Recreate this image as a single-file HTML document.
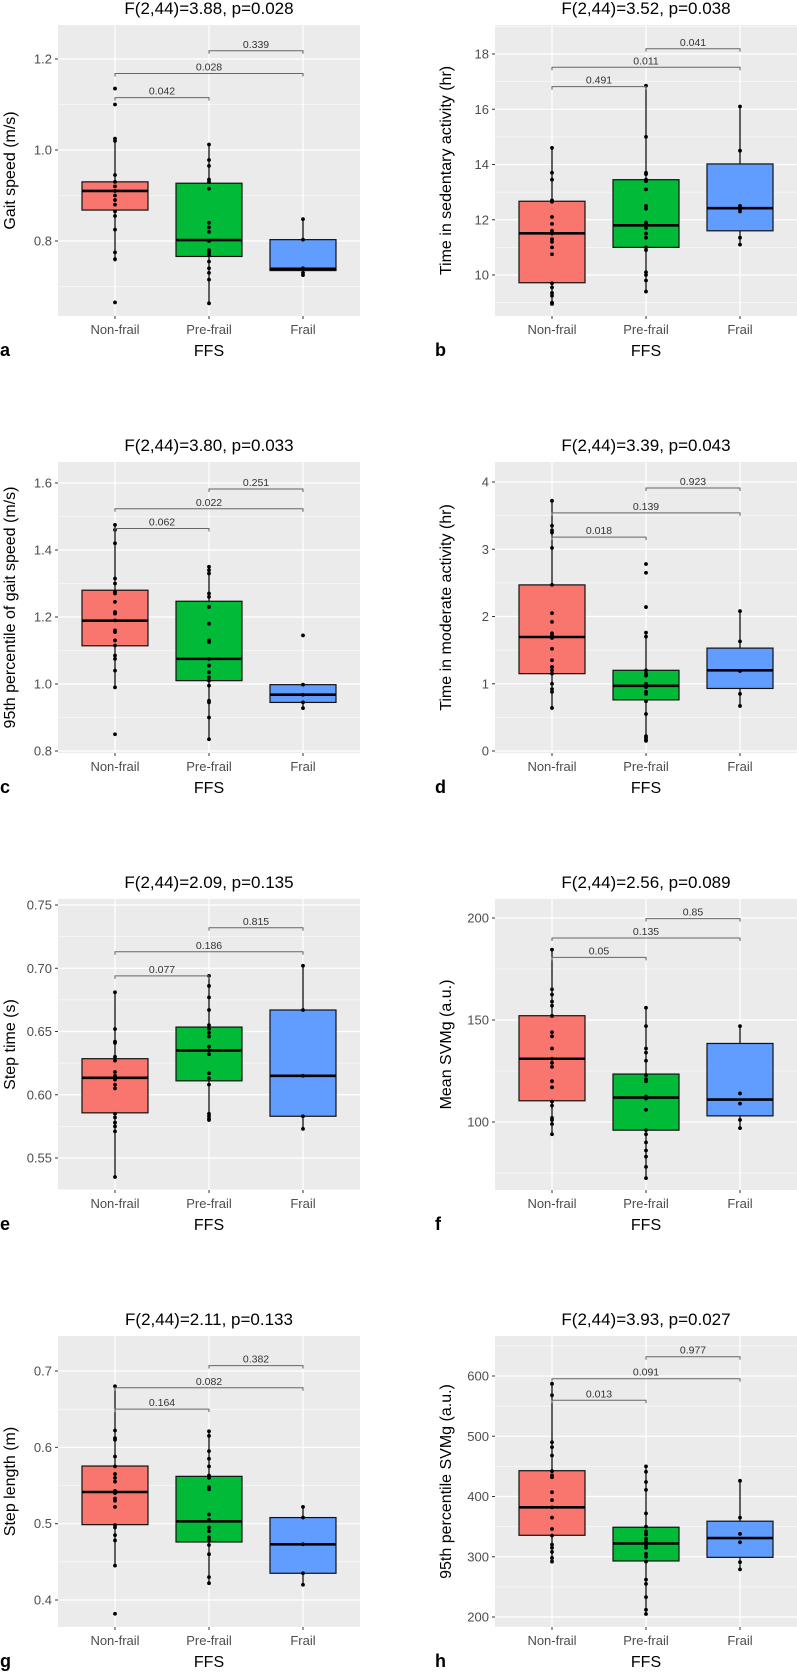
<!DOCTYPE html>
<html><head><meta charset="utf-8"><style>
body{margin:0;background:#fff}
svg{display:block;font-family:"Liberation Sans",Arial,sans-serif}
</style></head><body>
<svg id="fig" width="797" height="1672" viewBox="0 0 797 1672" xmlns="http://www.w3.org/2000/svg"></svg>
<script>
const categories = ["Non-frail","Pre-frail","Frail"];
const boxColors = ["#F8766D","#00BA38","#619CFF"];
// panel a
const aTicks=[0.8,1.0,1.2];
const aBoxes=[[0.755,0.868,0.910,0.930,1.025],[0.663,0.766,0.802,0.927,1.012],[0.725,0.735,0.739,0.803,0.848]];
const aPoints=[[1.135,1.10,1.025,1.02,0.945,0.93,0.92,0.91,0.90,0.89,0.88,0.865,0.855,0.825,0.775,0.76,0.665],[1.012,0.978,0.965,0.935,0.93,0.915,0.84,0.83,0.82,0.80,0.78,0.775,0.77,0.755,0.74,0.73,0.715,0.663],[0.848,0.803,0.74,0.73,0.725]];
const aBrackets=[[0,1,1.115,"0.042"],[0,2,1.168,"0.028"],[1,2,1.218,"0.339"]];
// panel b
const bTicks=[10,12,14,16,18];
const bBoxes=[[8.95,9.72,11.51,12.67,14.6],[9.4,11.0,11.8,13.45,16.85],[11.1,11.6,12.42,14.02,16.1]];
const bPoints=[[14.6,13.7,13.45,12.7,12.65,12.1,11.85,11.6,11.5,11.3,11.2,11.0,10.75,9.7,9.55,9.35,9.25,9.0,8.95],[16.85,15.0,13.7,13.65,13.45,13.4,13.1,12.5,12.4,11.9,11.85,11.7,11.5,11.35,11.0,10.9,10.1,10.0,9.8,9.4],[16.1,14.5,12.5,12.4,12.3,11.35,11.1]];
const bBrackets=[[0,1,16.82,"0.491"],[0,2,17.52,"0.011"],[1,2,18.19,"0.041"]];
// panel c
const cTicks=[0.8,1.0,1.2,1.4,1.6];
const cBoxes=[[0.99,1.114,1.189,1.28,1.475],[0.835,1.01,1.075,1.247,1.35],[0.928,0.945,0.968,0.998,0.998]];
const cPoints=[[1.475,1.46,1.42,1.315,1.30,1.275,1.27,1.245,1.215,1.21,1.19,1.16,1.155,1.13,1.115,1.085,1.075,1.04,0.99,0.85],[1.35,1.34,1.33,1.27,1.26,1.23,1.18,1.13,1.125,1.075,1.055,1.035,1.02,1.01,0.995,0.95,0.945,0.90,0.835],[1.145,0.998,0.968,0.945,0.928]];
const cBrackets=[[0,1,1.464,"0.062"],[0,2,1.523,"0.022"],[1,2,1.582,"0.251"]];
// panel d
const dTicks=[0,1,2,3,4];
const dBoxes=[[0.64,1.15,1.695,2.47,3.72],[0.15,0.76,0.97,1.2,1.76],[0.67,0.93,1.2,1.53,2.08]];
const dPoints=[[3.72,3.35,3.28,3.25,3.02,2.47,2.05,1.92,1.75,1.72,1.68,1.52,1.35,1.25,1.2,1.15,1.0,0.92,0.88,0.64],[2.78,2.65,2.14,1.76,1.7,1.2,1.15,1.12,1.0,0.95,0.88,0.85,0.74,0.55,0.22,0.2,0.17,0.15],[2.08,1.63,1.19,0.85,0.67]];
const dBrackets=[[0,1,3.18,"0.018"],[0,2,3.54,"0.139"],[1,2,3.91,"0.923"]];
// panel e
const eTicks=[0.55,0.60,0.65,0.70,0.75];
const eBoxes=[[0.535,0.5857,0.6134,0.6285,0.681],[0.58,0.611,0.635,0.6535,0.694],[0.573,0.583,0.615,0.667,0.702]];
const ePoints=[[0.681,0.652,0.642,0.641,0.63,0.627,0.618,0.615,0.612,0.608,0.605,0.585,0.582,0.578,0.575,0.571,0.535],[0.694,0.686,0.677,0.667,0.655,0.652,0.649,0.646,0.638,0.635,0.632,0.617,0.613,0.608,0.585,0.583,0.581,0.58],[0.702,0.667,0.615,0.583,0.573]];
const eBrackets=[[0,1,0.694,"0.077"],[0,2,0.713,"0.186"],[1,2,0.732,"0.815"]];
// panel f
const fTicks=[100,150,200];
const fBoxes=[[94,110.4,131,152.1,184.5],[72.5,96,112,123.5,156],[97,103,111,138.5,147]];
const fPoints=[[184.5,165,162.5,159,157,152,144,142,136,131,129,127,120,117,110,108,102,101,99,94],[156,147,136,134,130,123,121,120,112.5,111.5,106,96,94,90,86,83,78,72.5],[147,114,109,101,97]];
const fBrackets=[[0,1,180.7,"0.05"],[0,2,190.2,"0.135"],[1,2,199.7,"0.85"]];
// panel g
const gTicks=[0.4,0.5,0.6,0.7];
const gBoxes=[[0.445,0.4987,0.5415,0.5755,0.68],[0.422,0.476,0.503,0.562,0.621],[0.42,0.435,0.473,0.508,0.522]];
const gPoints=[[0.68,0.622,0.612,0.61,0.588,0.575,0.565,0.56,0.555,0.543,0.54,0.533,0.53,0.522,0.498,0.495,0.485,0.478,0.445,0.382],[0.621,0.615,0.595,0.585,0.575,0.563,0.56,0.548,0.545,0.512,0.505,0.495,0.49,0.482,0.478,0.472,0.46,0.43,0.422],[0.522,0.508,0.473,0.435,0.42]];
const gBrackets=[[0,1,0.65,"0.164"],[0,2,0.678,"0.082"],[1,2,0.707,"0.382"]];
// panel h
const hTicks=[200,300,400,500,600];
const hBoxes=[[292,335.6,382,442.8,587],[205,293,322,349,450],[279,299,331,359,426]];
const hPoints=[[587,568,490,482,468,442,435,432,407,394,382,365,346,335,320,315,308,298,292],[450,441,424,411,372,350,342,337,330,325,320,315,305,300,292,262,255,233,212,205],[426,365,338,324,291,279]];
const hBrackets=[[0,1,559.7,"0.013"],[0,2,595.5,"0.091"],[1,2,632,"0.977"]];

const panelTitles=["F(2,44)=3.88, p=0.028","F(2,44)=3.52, p=0.038","F(2,44)=3.80, p=0.033","F(2,44)=3.39, p=0.043","F(2,44)=2.09, p=0.135","F(2,44)=2.56, p=0.089","F(2,44)=2.11, p=0.133","F(2,44)=3.93, p=0.027"];
const yTitles=["Gait speed (m/s)","Time in sedentary activity (hr)","95th percentile of gait speed (m/s)","Time in moderate activity (hr)","Step time (s)","Mean SVMg (a.u.)","Step length (m)","95th percentile SVMg (a.u.)"];
const letters=["a","b","c","d","e","f","g","h"];
const tickFmt=[1,0,1,0,2,0,1,0];

const panels=[
 {t:aTicks,b:aBoxes,p:aPoints,br:aBrackets,cal:[1.2,34,0.8,216]},
 {t:bTicks,b:bBoxes,p:bPoints,br:bBrackets,cal:[18,29,10,250]},
 {t:cTicks,b:cBoxes,p:cPoints,br:cBrackets,cal:[1.6,21,0.8,289]},
 {t:dTicks,b:dBoxes,p:dPoints,br:dBrackets,cal:[4,20,0,289]},
 {t:eTicks,b:eBoxes,p:ePoints,br:eBrackets,cal:[0.75,6,0.55,259]},
 {t:fTicks,b:fBoxes,p:fPoints,br:fBrackets,cal:[200,19,100,223]},
 {t:gTicks,b:gBoxes,p:gPoints,br:gBrackets,cal:[0.7,35,0.4,264]},
 {t:hTicks,b:hBoxes,p:hPoints,br:hBrackets,cal:[600,40,200,281]}
];

const NS="http://www.w3.org/2000/svg";
const svg=document.getElementById("fig");
function mk(tag,attrs,parent,text){const e=document.createElementNS(NS,tag);for(const k in attrs)e.setAttribute(k,attrs[k]);if(text!==undefined)e.textContent=text;parent.appendChild(e);return e;}

const PW=302, PH=291;
panels.forEach((P,i)=>{
  const col=i%2,row=Math.floor(i/2);
  const x0=col?495:58, top=25+row*437, bottom=top+PH;
  const g=mk("g",{},svg);
  
  
  const [v1,y1,v2,y2]=P.cal;
  const y=v=>top+y1+(v1-v)*(y2-y1)/(v1-v2);
  const xc=k=>x0+57+k*94;
  const bg=mk("rect",{x:x0,y:top,width:PW,height:PH,fill:"#ebebeb"},g);
  
  
  const step=P.t[1]-P.t[0];
  const vTop=v1+(y1)*(v1-v2)/(y2-y1), vBot=v1-(PH-y1)*(v1-v2)/(y2-y1);
  for(let m=P.t[0]-step*10+step/2;m<=vTop+1e-9;m+=step){ if(m>=vBot){const yy=y(m);mk("line",{x1:x0,x2:x0+PW,y1:yy,y2:yy,stroke:"#fff","stroke-width":0.6},g);} }
  P.t.forEach(v=>{const yy=y(v);
    const gl=mk("line",{x1:x0,x2:x0+PW,y1:yy,y2:yy,stroke:"#fff","stroke-width":1.2},g);
    
    
    mk("line",{x1:x0-3,x2:x0,y1:yy,y2:yy,stroke:"#333","stroke-width":1},g);
    const tl=mk("text",{x:x0-6,y:yy+4.5,"text-anchor":"end","font-size":13,fill:"#4d4d4d"},g,v.toFixed(tickFmt[i]));
    
    
  });
  categories.forEach((c,k)=>{
    mk("line",{x1:xc(k),x2:xc(k),y1:top,y2:bottom,stroke:"#fff","stroke-width":1.2},g);
    mk("line",{x1:xc(k),x2:xc(k),y1:bottom,y2:bottom+3,stroke:"#333","stroke-width":1},g);
    const xl=mk("text",{x:xc(k),y:bottom+18,"text-anchor":"middle","font-size":13,fill:"#4d4d4d"},g,c);
    
    
  });
  P.b.forEach((s,k)=>{
    const cx=xc(k);
    const bx=mk("g",{},g);
    
    
    mk("line",{x1:cx,x2:cx,y1:y(s[4]),y2:y(s[3]),stroke:"#000","stroke-width":1.2},bx);
    mk("line",{x1:cx,x2:cx,y1:y(s[1]),y2:y(s[0]),stroke:"#000","stroke-width":1.2},bx);
    mk("rect",{x:cx-33,y:y(s[3]),width:66,height:Math.max(0.5,y(s[1])-y(s[3])),fill:boxColors[k],stroke:"#111","stroke-width":1.2},bx);
    mk("line",{x1:cx-33,x2:cx+33,y1:y(s[2]),y2:y(s[2]),stroke:"#000","stroke-width":2.6},bx);
  });
  P.p.forEach((arr,k)=>arr.forEach(v=>{
    const d=mk("circle",{cx:xc(k),cy:y(v),r:1.9,fill:"#000"},g);
    
    
  }));
  P.br.forEach(b=>{
    const yy=y(b[2]);
    const bg2=mk("g",{},g);
    
    
    mk("path",{d:`M${xc(b[0])},${yy+3}V${yy}H${xc(b[1])}V${yy+3}`,fill:"none",stroke:"#666","stroke-width":1},bg2);
    mk("text",{x:(xc(b[0])+xc(b[1]))/2,y:yy-3,"text-anchor":"middle","font-size":10.5,fill:"#333"},bg2,b[3]);
  });
  const cxm=x0+PW/2;
  const tt=mk("text",{x:cxm,y:top-11,"text-anchor":"middle","font-size":17,fill:"#000"},g,panelTitles[i]);
  
  
  const xt=mk("text",{x:cxm,y:bottom+40,"text-anchor":"middle","font-size":16,fill:"#000"},g,"FFS");
  
  
  const ax=col?446:10, ay=top+PH/2;
  const yt=mk("text",{x:ax,y:ay,"text-anchor":"middle","font-size":16,fill:"#000",transform:`rotate(-90 ${ax} ${ay}) translate(0 5)`},g,yTitles[i]);
  
  
  const lt=mk("text",{x:col?435:0,y:bottom+40,"font-size":18,"font-weight":"bold",fill:"#000"},g,letters[i]);
  
  
});
</script>
</body></html>
